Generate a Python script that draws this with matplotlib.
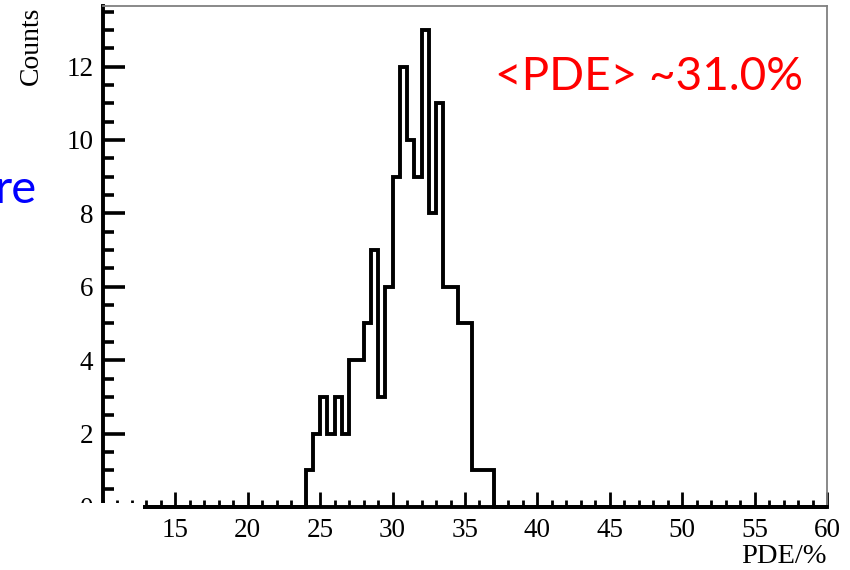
import numpy as np
import matplotlib
matplotlib.use('Agg')
import matplotlib.pyplot as plt
from matplotlib.patches import Rectangle
from matplotlib.ticker import MultipleLocator

# PDE distribution, 0.5% wide bins starting at 24%
bin_start = 24.0
bin_width = 0.5
counts = [1, 2, 3, 2, 3, 2, 4, 4, 5, 7, 3, 6, 9,
          12, 10, 9, 13, 8, 11, 6, 6, 5, 5, 1, 1, 1]

# full histogram range
x_min, x_max = 10, 60
x_ticks = [15, 20, 25, 30, 35, 40, 45, 50, 55, 60]
y_ticks = [0, 2, 4, 6, 8, 10, 12]
mean_label = '<PDE> ~31.0%'

SERIF = 'Liberation Serif'
W, H = 850, 570


def build_hist():
    n_bins = int(round((x_max - x_min) / bin_width))
    edges = np.linspace(x_min, x_max, n_bins + 1)
    vals = np.zeros(n_bins)
    i0 = int(round((bin_start - x_min) / bin_width))
    vals[i0:i0 + len(counts)] = counts
    return edges, vals


edges, vals = build_hist()

fig = plt.figure(figsize=(W / 100, H / 100), dpi=100)
ax = fig.add_axes([103 / W, 1 - 507 / H, 724 / W, 501 / H])

ax.stairs(vals, edges, color='black', linewidth=2.8, clip_on=False, zorder=3)

ax.set_xlim(x_min, x_max)
ax.set_ylim(0, 1.05 * max(counts))

ax.set_xticks(x_ticks)
ax.xaxis.set_minor_locator(MultipleLocator(1))
ax.set_yticks(y_ticks)
ax.yaxis.set_minor_locator(MultipleLocator(0.5))

ax.tick_params(axis='y', which='major', direction='in', length=16, width=2.6,
               pad=7, labelsize=19.5)
ax.tick_params(axis='y', which='minor', direction='in', length=8, width=2.6)
ax.tick_params(axis='x', which='major', direction='in', length=11, width=2,
               pad=8, labelsize=19.5)
ax.tick_params(axis='x', which='minor', direction='in', length=5, width=2)
for lab in ax.get_xticklabels() + ax.get_yticklabels():
    lab.set_fontfamily(SERIF)

for side in ['top', 'right']:
    ax.spines[side].set_color('#808080')
    ax.spines[side].set_linewidth(1.3)
for side in ['left', 'bottom']:
    ax.spines[side].set_color('black')
    ax.spines[side].set_linewidth(2.8)

fig.text(31 / W, 1 - 7 / H, 'Counts', rotation=90, ha='center', va='top',
         fontsize=20, family=SERIF)
fig.text(827 / W, 1 - 563 / H, 'PDE/%', ha='right', va='baseline',
         fontsize=20.5, family=SERIF)

fig.text(495 / W, 1 - 90 / H, mean_label, ha='left', va='baseline',
         fontsize=33, color='#ff0000', family='Lato')
fig.text(37 / W, 1 - 203 / H, 're', ha='right', va='baseline',
         fontsize=34, color='#0000ff', family='Lato')

# white box over the lower left corner
fig.add_artist(Rectangle((0, 0), 143 / W, (H - 503) / H, transform=fig.transFigure,
                         facecolor='white', edgecolor='none', zorder=10))

fig.savefig('out.png', dpi=100)
